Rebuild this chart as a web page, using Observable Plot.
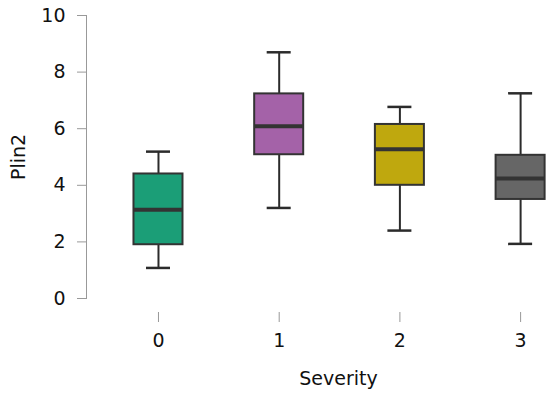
<!DOCTYPE html>
<html>
<head>
<meta charset="utf-8">
<script src="https://cdn.jsdelivr.net/npm/d3@7"></script>
<script src="https://cdn.jsdelivr.net/npm/@observablehq/plot@0.6"></script>
<style>
  html, body { margin: 0; padding: 0; background: #fff; }
</style>
</head>
<body>
<div id="chart"></div>
<script>
const severity = ["0", "1", "2", "3"];
const whiskerLow = [1.08, 3.2, 2.4, 1.93];
const q1 = [1.9, 5.08, 4.0, 3.5];
const median = [3.14, 6.09, 5.27, 4.24];
const q3 = [4.4, 7.23, 6.15, 5.06];
const whiskerHigh = [5.19, 8.7, 6.77, 7.25];
const colors = ["#1b9e77", "#a462a8", "#bfa80e", "#666666"];
const yTicks = [0, 2, 4, 6, 8, 10];
const xTitle = "Severity";
const yTitle = "Plin2";

const data = severity.map((s, i) => ({
  s, lo: whiskerLow[i], q1: q1[i], med: median[i], q3: q3[i], hi: whiskerHigh[i]
}));

const chart = Plot.plot({
  width: 550,
  height: 395,
  marginTop: 15,
  marginBottom: 97,
  marginLeft: 86,
  marginRight: 0,
  style: { fontFamily: "DejaVu Sans", fontSize: "19px", color: "#111", background: "#fff" },
  x: { domain: severity, paddingInner: 0.594, paddingOuter: 0.219, align: 0.898, round: false, label: null },
  y: { domain: [0, 10], label: null },
  color: { domain: severity, range: colors },
  marks: [
    Plot.frame({ anchor: "left", stroke: "#999", strokeWidth: 1 }),
    Plot.axisY({ ticks: yTicks, tickSize: 9, tickPadding: 12, fontSize: 19, stroke: "#999", label: yTitle, labelAnchor: "center", labelArrow: "none", labelOffset: 75 }),
    Plot.axisX({ tickSize: 10, tickPadding: 11, fontSize: 19, dy: 14, stroke: "#999", label: null }),
    Plot.text([xTitle], { text: d => d, frameAnchor: "bottom", lineAnchor: "middle", dx: 20, dy: 80, fontSize: 19, fill: "#111" }),
    Plot.ruleX(data, { x: "s", y1: "lo", y2: "hi", stroke: "#2b2b2b", strokeWidth: 2 }),
    Plot.tickY(data, { x: "s", y: "lo", stroke: "#2b2b2b", strokeWidth: 2.5, insetLeft: 12.5, insetRight: 12.5 }),
    Plot.tickY(data, { x: "s", y: "hi", stroke: "#2b2b2b", strokeWidth: 2.5, insetLeft: 12.5, insetRight: 12.5 }),
    Plot.barY(data, { x: "s", y1: "q1", y2: "q3", fill: "s", stroke: "#333", strokeWidth: 2 }),
    Plot.tickY(data, { x: "s", y: "med", stroke: "#333", strokeWidth: 4 })
  ]
});
document.getElementById("chart").appendChild(chart);
</script>
</body>
</html>
